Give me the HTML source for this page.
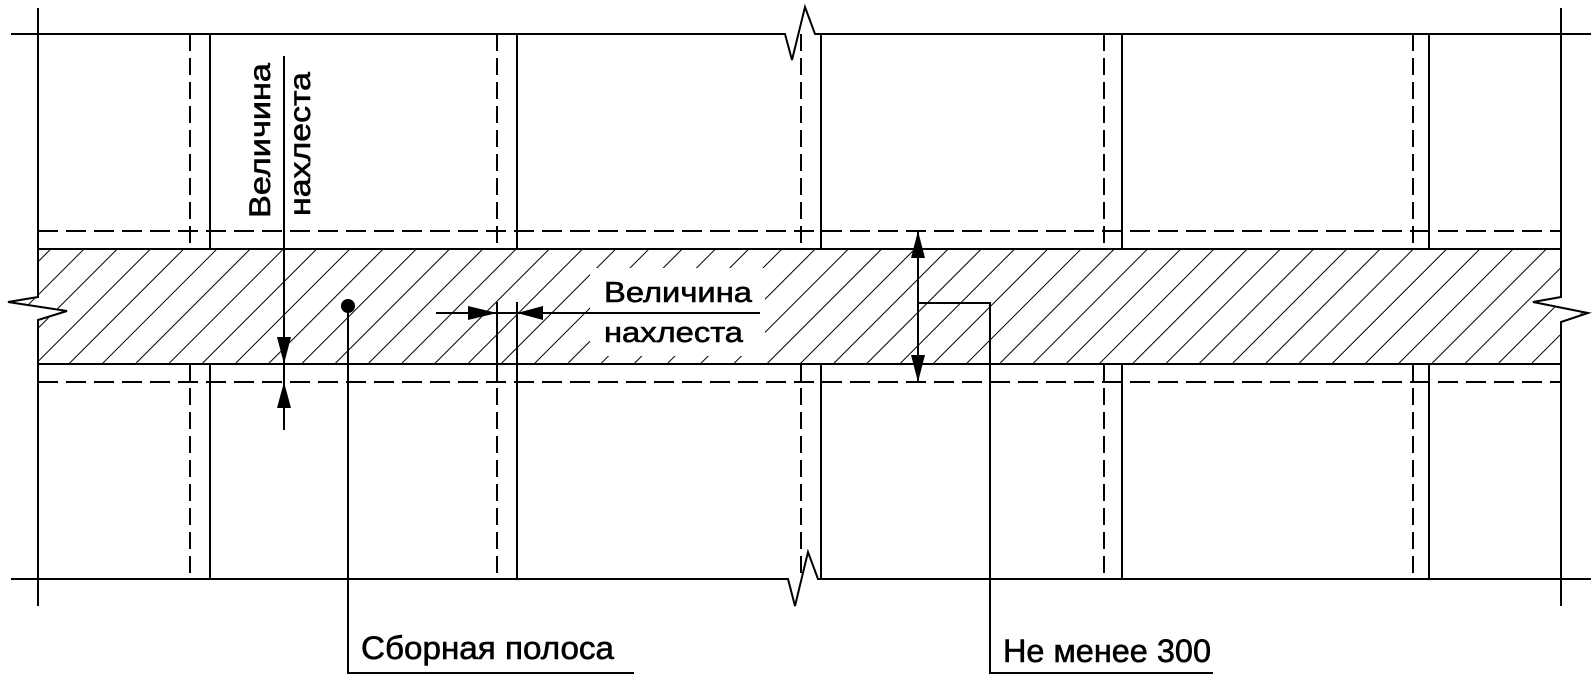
<!DOCTYPE html>
<html><head><meta charset="utf-8"><style>
html,body{margin:0;padding:0;background:#fff;}
svg{display:block;}
text{font-family:"Liberation Sans",Arial,sans-serif;fill:#000;stroke:#000;stroke-width:0.6;}
</style></head><body>
<svg width="1595" height="678" viewBox="0 0 1595 678" xmlns="http://www.w3.org/2000/svg">
<defs>
<pattern id="h" patternUnits="userSpaceOnUse" width="23.5" height="23.5" patternTransform="rotate(45)">
<line x1="0" y1="-1" x2="0" y2="24.5" stroke="#000" stroke-width="2"/>
</pattern>
<clipPath id="band"><polygon points="38,249 1561,249 1561,297 1533,302 1588,313 1561,322 1561,364 38,364 38,320 67,311 8,302 38,297"/></clipPath>
</defs>
<g clip-path="url(#band)">
<rect x="0" y="249" width="1595" height="115" fill="url(#h)"/>
</g>
<rect x="590" y="268" width="175" height="88" fill="#fff"/>
<g stroke="#000" stroke-width="2" fill="none">
<polyline points="11,34 785,34 792,60 805,7 815,34 1591,34"/>
<polyline points="11,579 788,579 795,606 808,552 818,579 1591,579"/>
<line x1="38" y1="249" x2="1561" y2="249"/>
<line x1="38" y1="364" x2="1561" y2="364"/>
<polyline points="38,8 38,297 8,302 67,311 38,320 38,606"/>
<polyline points="1561,8 1561,297 1533,302 1588,313 1561,322 1561,606"/>
<path d="M210 34V249M210 364V579M517 34V249M517 364V579M821 34V249M821 364V579M1122 34V249M1122 364V579M1429 34V249M1429 364V579"/>
<path d="M497 302V364M517 302V364"/>
</g>
<g stroke="#000" stroke-width="2" fill="none" stroke-dasharray="17 7">
<path d="M190 34V249M190 364V579M497 34V249M497 364V579M801 34V249M801 364V579M1104 34V249M1104 364V579M1413 34V249M1413 364V579"/>
</g>
<g stroke="#000" stroke-width="2" fill="none" stroke-dasharray="20 8">
<line x1="38" y1="231" x2="1561" y2="231"/>
<line x1="38" y1="382" x2="1561" y2="382"/>
</g>
<g stroke="#000" stroke-width="2" fill="none">
<line x1="284" y1="56" x2="284" y2="430"/>
<line x1="436" y1="313" x2="760" y2="313"/>
<line x1="918" y1="231" x2="918" y2="382"/>
<polyline points="918,303 990,303 990,673 1213,673"/>
<polyline points="348,306 348,673 634,673"/>
</g>
<g fill="#000">
<polygon points="277,337 291,337 284,364"/>
<polygon points="277,408 291,408 284,382"/>
<polygon points="468,306 468,320 497,313"/>
<polygon points="543,306 543,320 517,313"/>
<polygon points="911,258 925,258 918,231"/>
<polygon points="911,355 925,355 918,382"/>
<circle cx="348" cy="306" r="7"/>
</g>
<text transform="translate(270,218) rotate(-90)" font-size="30" textLength="155" lengthAdjust="spacingAndGlyphs">Величина</text>
<text transform="translate(310,216) rotate(-90)" font-size="30" textLength="144" lengthAdjust="spacingAndGlyphs">нахлеста</text>
<text x="604" y="302" font-size="29" textLength="148" lengthAdjust="spacingAndGlyphs">Величина</text>
<text x="604" y="342" font-size="29" textLength="139" lengthAdjust="spacingAndGlyphs">нахлеста</text>
<text x="361" y="659" font-size="32" textLength="253" lengthAdjust="spacingAndGlyphs">Сборная полоса</text>
<text x="1003" y="662" font-size="32" textLength="208" lengthAdjust="spacingAndGlyphs">Не менее 300</text>
</svg>
</body></html>
